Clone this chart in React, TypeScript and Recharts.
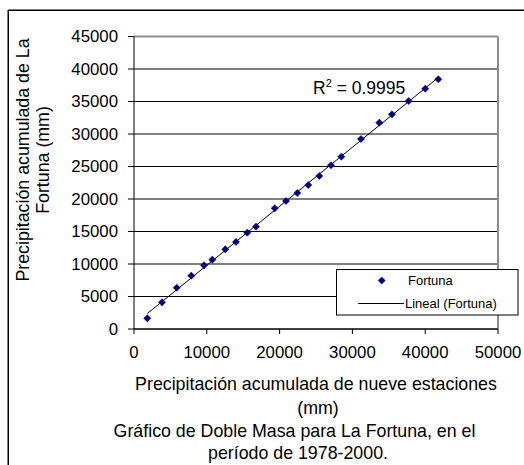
import React from "react";
import {
  ScatterChart,
  Scatter,
  XAxis,
  YAxis,
  CartesianGrid,
  ReferenceLine,
} from "recharts";

// Accumulated precipitation of nine stations (mm)
const nineStations = [
  1830, 3850, 5870, 7870, 9620, 10760, 12540, 14010, 15560, 16760, 19330,
  20880, 22430, 23940, 25450, 27060, 28480, 31180, 33700, 35440, 37730, 40010,
  41800,
];
// Accumulated precipitation of La Fortuna (mm)
const fortuna = [
  1650, 4110, 6350, 8200, 9800, 10660, 12260, 13390, 14820, 15740, 18570,
  19690, 20920, 22150, 23540, 25190, 26510, 29230, 31740, 33030, 35080, 36970,
  38420,
];
const xTicks = [0, 10000, 20000, 30000, 40000, 50000];
const yTicks = [0, 5000, 10000, 15000, 20000, 25000, 30000, 35000, 40000, 45000];
const seriesName = "Fortuna";
const trendName = "Lineal (Fortuna)";
const r2Value = "0.9995";
const xTitle = ["Precipitación acumulada de nueve estaciones", "(mm)"];
const caption = [
  "Gráfico de Doble Masa para La Fortuna, en el",
  "período de 1978-2000.",
];
const yTitle = ["Precipitación acumulada de La", "Fortuna (mm)"];

const data = nineStations.map((x, i) => ({ x, y: fortuna[i] }));

// least squares trendline (as the spreadsheet's "Lineal" trendline)
const n = data.length;
const mx = nineStations.reduce((a, b) => a + b, 0) / n;
const my = fortuna.reduce((a, b) => a + b, 0) / n;
let sxy = 0;
let sxx = 0;
data.forEach((d) => {
  sxy += (d.x - mx) * (d.y - my);
  sxx += (d.x - mx) * (d.x - mx);
});
const slope = sxy / sxx;
const intercept = my - slope * mx;
const xMin = Math.min(...nineStations);
const xMax = Math.max(...nineStations);

const FONT = "'Liberation Sans', Arial, sans-serif";
const NAVY = "#000080";
const TITLE_FS = 17.8;
const TICK_FS = 16.8;

const Diamond = (props: any) => {
  const { cx, cy } = props;
  const r = 3.6;
  return (
    <polygon
      points={`${cx},${cy - r} ${cx + r},${cy} ${cx},${cy + r} ${cx - r},${cy}`}
      fill={NAVY}
      stroke={NAVY}
      strokeWidth={0.5}
    />
  );
};

export default function App() {
  const W = 524;
  const H = 465;
  return (
    <div
      style={{
        position: "absolute",
        left: 0,
        top: 0,
        width: W,
        height: H,
        background: "#fff",
        fontFamily: FONT,
      }}
    >
      <ScatterChart
        width={W}
        height={H}
        margin={{ top: 36.5, right: 26, left: 0, bottom: 0 }}
      >
        <CartesianGrid
          vertical={false}
          stroke="#000"
          strokeWidth={1}
          strokeDasharray=""
        />
        <XAxis
          type="number"
          dataKey="x"
          domain={[0, 50000]}
          ticks={xTicks}
          interval={0}
          height={136}
          tickSize={5}
          tickMargin={12}
          axisLine={{ stroke: "#000" }}
          tickLine={{ stroke: "#000" }}
          tick={{ fill: "#000", fontSize: TICK_FS, fontFamily: FONT }}
          allowDataOverflow
        />
        <YAxis
          type="number"
          dataKey="y"
          domain={[0, 45000]}
          ticks={yTicks}
          interval={0}
          width={134}
          tickSize={6}
          tickMargin={10}
          axisLine={{ stroke: "#000" }}
          tickLine={{ stroke: "#000" }}
          tick={{ fill: "#000", fontSize: TICK_FS, fontFamily: FONT }}
          allowDataOverflow
        />
        <ReferenceLine y={45000} stroke="#8c8c8c" strokeWidth={2} />
        <ReferenceLine x={50000} stroke="#8c8c8c" strokeWidth={2} />
        <ReferenceLine
          segment={[
            { x: xMin, y: intercept + slope * xMin },
            { x: xMax, y: intercept + slope * xMax },
          ]}
          stroke="#000"
          strokeWidth={1}
        />
        <Scatter
          name={seriesName}
          data={data}
          shape={<Diamond />}
          isAnimationActive={false}
        />
      </ScatterChart>
      <svg
        width={W}
        height={H}
        style={{ position: "absolute", left: 0, top: 0, pointerEvents: "none" }}
        fontFamily={FONT}
      >
        {/* outer frame (top & left visible) */}
        <line x1={8} y1={10.25} x2={W} y2={10.25} stroke="#000" strokeWidth={1.5} />
        <line x1={8.25} y1={10} x2={8.25} y2={H} stroke="#000" strokeWidth={1.5} />

        {/* y axis title */}
        <g transform="translate(22.5,160) rotate(-90)">
          <text x={0} y={0} textAnchor="middle" dominantBaseline="central" fontSize={TITLE_FS} fill="#000">
            {yTitle[0]}
          </text>
        </g>
        <g transform="translate(43,160) rotate(-90)">
          <text x={0} y={0} textAnchor="middle" dominantBaseline="central" fontSize={TITLE_FS} fill="#000">
            {yTitle[1]}
          </text>
        </g>

        {/* x axis title */}
        <text x={316} y={390} textAnchor="middle" fontSize={TITLE_FS} fill="#000">
          {xTitle[0]}
        </text>
        <text x={318} y={413.5} textAnchor="middle" fontSize={TITLE_FS} fill="#000">
          {xTitle[1]}
        </text>
        {/* caption */}
        <text x={294.5} y={436.5} textAnchor="middle" fontSize={TITLE_FS} fill="#000">
          {caption[0]}
        </text>
        <text x={298} y={459} textAnchor="middle" fontSize={TITLE_FS} fill="#000">
          {caption[1]}
        </text>

        {/* R squared label */}
        <text x={313} y={94} fontSize={17.5} fill="#000">
          R
          <tspan dy={-7} fontSize={11}>2</tspan>
          <tspan dy={7}>{` = ${r2Value}`}</tspan>
        </text>

        {/* legend */}
        <rect x={336.5} y={269.5} width={181.5} height={45.5} fill="#fff" stroke="#000" strokeWidth={1} />
        <Diamond cx={381.7} cy={280.5} />
        <text x={408} y={280.5} dominantBaseline="central" fontSize={13} fill="#000">
          {seriesName}
        </text>
        <line x1={358} y1={303.5} x2={404} y2={303.5} stroke="#000" strokeWidth={1} />
        <text x={405} y={303.5} dominantBaseline="central" fontSize={13} fill="#000">
          {trendName}
        </text>
      </svg>
    </div>
  );
}
